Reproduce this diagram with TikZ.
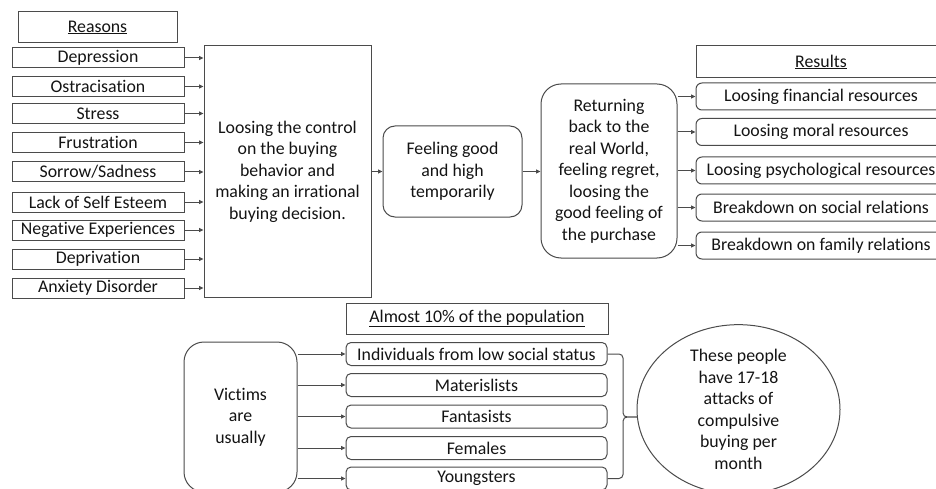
\documentclass[tikz,border=0pt]{standalone}
\usepackage{fontspec}
\setmainfont{Carlito}[Ligatures=NoCommon]
\usetikzlibrary{arrows.meta,shapes.geometric}
\definecolor{linegray}{RGB}{75,75,75}
\definecolor{textgray}{RGB}{20,20,20}
\begin{document}
\begin{tikzpicture}[x=1pt,y=-1pt,
  every node/.style={font=\fontsize{17.8}{21.5}\selectfont, text=textgray, inner sep=0pt, align=center},
  sqbox/.style={draw=linegray, line width=1pt, rectangle},
  rbox/.style={draw=linegray, line width=1pt, rectangle, rounded corners=#1},
  reason/.style={sqbox, minimum width=172pt, minimum height=20pt},
  result/.style={rbox=6pt, minimum width=250pt, minimum height=27pt},
  victim/.style={rbox=5pt, minimum width=261pt, minimum height=23pt},
  arr/.style={draw=linegray, line width=1pt, -{Triangle[length=4.5pt,width=4pt]}}
]
\useasboundingbox (0,0) rectangle (936,489);
\clip (0,0) rectangle (936,489);
\fill[white] (0,0) rectangle (936,489);

% Reasons column
\node[sqbox, minimum width=159pt, minimum height=31pt] (reasons) at (97.5,27.5) {\underline{Reasons}};
\node[reason] (r1) at (98,58) {Depression};
\node[reason] (r2) at (98,86.5) {Ostracisation};
\node[reason] (r3) at (98,113.5) {Stress};
\node[reason] (r4) at (98,142.5) {Frustration};
\node[reason] (r5) at (98,172) {Sorrow/Sadness};
\node[reason] (r6) at (98,202) {Lack of Self Esteem};
\node[reason] (r7) at (98,230) {Negative Experiences};
\node[reason] (r8) at (98,259) {Deprivation};
\node[reason] (r9) at (98,288) {Anxiety Disorder};

\node[sqbox, minimum width=167pt, minimum height=251pt] (loss) at (287.5,171.5)
  {Loosing the control\\on the buying\\behavior and\\making an irrational\\buying decision.};

\foreach \i in {1,...,9}{
  \draw[arr] (r\i.east) -- (r\i.east -| loss.west);
}

\node[rbox=12pt, minimum width=139pt, minimum height=91pt] (feel) at (452.5,171.5)
  {Feeling good\\and high\\temporarily};
\node[rbox=20pt, minimum width=136pt, minimum height=174pt] (ret) at (609,171)
  {Returning\\back to the\\real World,\\feeling regret,\\loosing the\\good feeling of\\the purchase};

\draw[arr] (loss.east |- feel.west) -- (feel.west);
\draw[arr] (feel.east) -- (feel.east -| ret.west);

% Results
\node[sqbox, minimum width=250pt, minimum height=32pt] (results) at (821,62) {\underline{Results}};
\node[result] (s1) at (821,96.5) {Loosing financial resources};
\node[result] (s2) at (821,132) {Loosing moral resources};
\node[result] (s3) at (821,170.5) {Loosing psychological resources};
\node[result] (s4) at (821,207.5) {Breakdown on social relations};
\node[result] (s5) at (821,245.5) {Breakdown on family relations};
\foreach \i in {1,...,5}{
  \draw[arr] (ret.east |- s\i.west) -- (s\i.west);
}

% Victims
\node[sqbox, minimum width=262pt, minimum height=31pt] (pop) at (477,318.5) {\underline{Almost 10\% of the population}};
\node[rbox=20pt, minimum width=113pt, minimum height=150pt] (vict) at (240.5,417) {Victims\\are\\usually};
\node[victim] (v1) at (476.5,354) {Individuals from low social status};
\node[victim] (v2) at (476.5,385) {Materislists};
\node[victim] (v3) at (476.5,416.5) {Fantasists};
\node[victim] (v4) at (476.5,448) {Females};
\node[victim] (v5) at (476.5,478.5) {Youngsters};
\foreach \i in {1,...,5}{
  \draw[arr] (vict.east |- v\i.west) -- (v\i.west);
}

% Brace
\coordinate (btip) at (637,417);
\draw[draw=linegray, line width=1pt]
  (v1.east) -- (619,354) to[out=0,in=90] (623,358) -- (623,413) to[out=-90,in=180] (btip)
  to[out=180,in=90] (623,421) -- (623,474.5) to[out=-90,in=0] (619,478.5) -- (v5.east);

\node[ellipse, draw=linegray, line width=1pt, minimum width=203pt, minimum height=155pt] (att) at (738.5,409.5)
  {These people\\have 17-18\\attacks of\\compulsive\\buying per\\month};
\end{tikzpicture}
\end{document}
